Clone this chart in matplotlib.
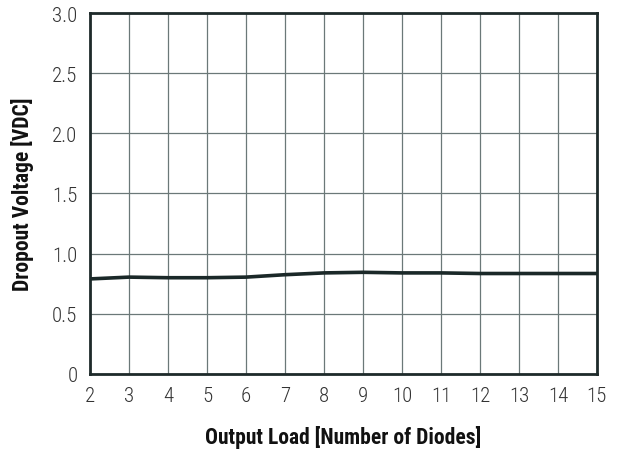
import matplotlib
matplotlib.use('Agg')
import matplotlib.pyplot as plt

# output load (number of diodes) vs dropout voltage
diodes = [2, 3, 4, 5, 6, 7, 8, 9, 10, 11, 12, 13, 14, 15]
dropout_v = [0.79, 0.805, 0.80, 0.80, 0.805, 0.825, 0.84, 0.845, 0.84, 0.84, 0.835, 0.835, 0.835, 0.835]

x_ticks = list(range(2, 16))
y_ticks = [0, 0.5, 1.0, 1.5, 2.0, 2.5, 3.0]
y_labels = ['0', '0.5', '1.0', '1.5', '2.0', '2.5', '3.0']

plt.rcParams['font.family'] = ['Roboto Condensed', 'Liberation Sans', 'DejaVu Sans']

fig = plt.figure(figsize=(6.22, 4.52), dpi=100)
ax = fig.add_axes([0.1447, 0.1704, 0.815, 0.7986])

ax.plot(diodes, dropout_v, color='#1a2828', linewidth=2.6, solid_capstyle='butt', zorder=3)

ax.set_xlim(2, 15)
ax.set_ylim(0, 3.0)
ax.set_xticks(x_ticks)
ax.set_yticks(y_ticks)
ax.set_yticklabels(y_labels)
ax.grid(True, color='#6b7878', linewidth=0.9)
ax.set_axisbelow(True)
ax.tick_params(length=0, labelsize=15, colors='#333333', pad=9)
ax.tick_params(axis='y', pad=9)
for lbl in ax.get_xticklabels() + ax.get_yticklabels():
    lbl.set_fontweight('light')
for s in ax.spines.values():
    s.set_color('#1e2a2a')
    s.set_linewidth(2.0)

ax.set_xlabel('Output Load [Number of Diodes]', fontsize=15.5, fontweight='bold', color='#111111', labelpad=14)
ax.set_ylabel('Dropout Voltage [VDC]', fontsize=15.5, fontweight='bold', color='#111111', labelpad=13)

fig.savefig('out.png', dpi=100)
